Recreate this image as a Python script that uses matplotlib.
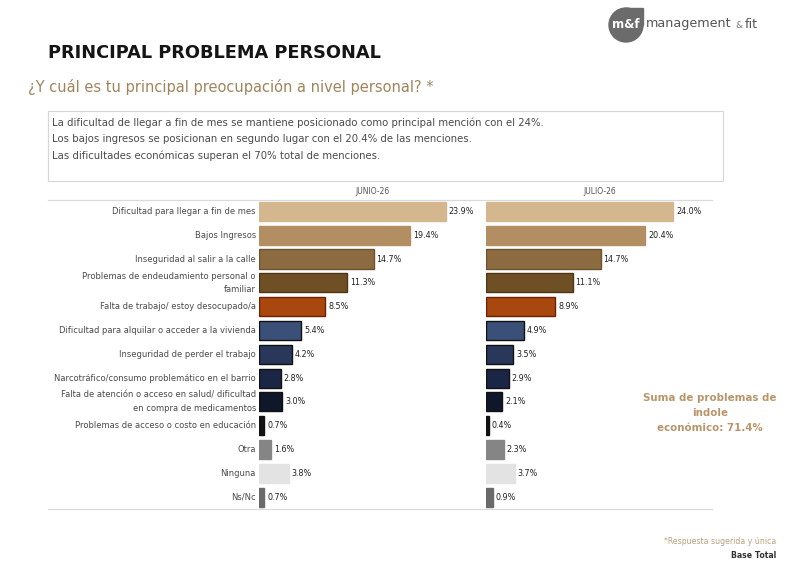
import numpy as np
import matplotlib
matplotlib.use("Agg")
import matplotlib.pyplot as plt
from matplotlib.patches import Rectangle, Circle
from matplotlib.lines import Line2D

categorias = [
    "Dificultad para llegar a fin de mes",
    "Bajos Ingresos",
    "Inseguridad al salir a la calle",
    "Problemas de endeudamiento personal o\nfamiliar",
    "Falta de trabajo/ estoy desocupado/a",
    "Dificultad para alquilar o acceder a la vivienda",
    "Inseguridad de perder el trabajo",
    "Narcotráfico/consumo problemático en el barrio",
    "Falta de atención o acceso en salud/ dificultad\nen compra de medicamentos",
    "Problemas de acceso o costo en educación",
    "Otra",
    "Ninguna",
    "Ns/Nc",
]
junio = [23.9, 19.4, 14.7, 11.3, 8.5, 5.4, 4.2, 2.8, 3.0, 0.7, 1.6, 3.8, 0.7]
julio = [24.0, 20.4, 14.7, 11.1, 8.9, 4.9, 3.5, 2.9, 2.1, 0.4, 2.3, 3.7, 0.9]
periodos = ["JUNIO-26", "JULIO-26"]

colores = ["#D5B78F", "#B28E62", "#8C6B40", "#6F4F24", "#A9480E", "#3B5079",
           "#28375A", "#1B2647", "#0F172B", "#141414", "#858585", "#E3E3E3", "#6A6A6A"]
bordes = ["#D5B78F", "#B28E62", "#6E522C", "#4E3515", "#6E1F05", "#111111",
          "#111111", "#111111", "#111111", "#111111", "#858585", "#E3E3E3", "#6A6A6A"]

W, H = 800, 567
fig = plt.figure(figsize=(W / 100, H / 100), dpi=100)
fig.patch.set_facecolor("white")


def fx(x):
    return x / W


def fy(y):
    return 1 - y / H


def add_ax(x0, x1, y0, y1):
    return fig.add_axes([fx(x0), fy(y1), fx(x1) - fx(x0), fy(y0) - fy(y1)])


# logo
logo = fig.add_axes([fx(600), fy(46), fx(52), (46 - 4) / H])
logo.set_xlim(0, 52)
logo.set_ylim(0, 42)
logo.set_aspect("equal")
logo.axis("off")
logo.add_patch(Circle((26, 21), 17, color="#6B6B6B"))
logo.add_patch(Rectangle((26, 21), 17, 17, color="#6B6B6B"))
logo.text(26, 21, "m&f", color="white", fontsize=8.5, fontweight="bold",
          ha="center", va="center")
fig.text(fx(646), fy(24), "management", color="#555555", fontsize=9.2,
         ha="left", va="center")
fig.text(fx(735), fy(25), "&", color="#777777", fontsize=6.5, ha="left", va="center")
fig.text(fx(745), fy(24), "fit", color="#555555", fontsize=9.2, ha="left", va="center")

# titulos
fig.text(fx(48), fy(53), "PRINCIPAL PROBLEMA PERSONAL", fontsize=12.8,
         fontweight="bold", color="#151515", ha="left", va="center")
fig.text(fx(28), fy(87), "¿Y cuál es tu principal preocupación a nivel personal? *",
         fontsize=10.5, color="#A0845C", ha="left", va="center")

# recuadro
fig.patches.append(Rectangle((fx(48), fy(181)), fx(723) - fx(48), fy(111) - fy(181),
                             transform=fig.transFigure, fill=False,
                             edgecolor="#D6D6D6", linewidth=0.8))
textos = [
    "La dificultad de llegar a fin de mes se mantiene posicionado como principal mención con el 24%.",
    "Los bajos ingresos se posicionan en segundo lugar con el 20.4% de las menciones.",
    "Las dificultades económicas superan el 70% total de menciones.",
]
for i, t in enumerate(textos):
    fig.text(fx(52), fy(123 + 16.5 * i), t, fontsize=7.3, color="#4A4A4A",
             ha="left", va="center")

# lineas superior e inferior
for y in (199.5, 509):
    fig.add_artist(Line2D([fx(48), fx(712)], [fy(y), fy(y)], color="#D9D9D9",
                          linewidth=0.8, transform=fig.transFigure))

# barras
ax1 = add_ax(259, 462, 199.5, 509)
ax2 = add_ax(486, 689, 199.5, 509)
y = np.arange(len(categorias))
for ax, vals, nombre, cx in ((ax1, junio, periodos[0], 373), (ax2, julio, periodos[1], 600)):
    ax.barh(y, vals, height=0.8, color=colores, edgecolor=bordes, linewidth=1.0)
    for yi, v in zip(y, vals):
        ax.text(v + 0.35, yi, f"{v:.1f}%", fontsize=5.8, color="#222222",
                ha="left", va="center")
    ax.set_xlim(0, 26)
    ax.set_ylim(12.5, -0.5)
    ax.axis("off")
    fig.text(fx(cx), fy(191), nombre, fontsize=5.5, color="#555555",
             ha="center", va="center")

for yi, c in zip(y, categorias):
    ax1.text(-0.4, yi, c, fontsize=6.0, color="#4A4A4A", ha="right", va="center",
             linespacing=1.55)

# anotacion
fig.text(fx(710), fy(413), "Suma de problemas de\nindole\neconómico: 71.4%",
         fontsize=7.4, fontweight="bold", color="#B8956A", ha="center", va="center",
         linespacing=1.6)

# pie
fig.text(fx(776), fy(542), "*Respuesta sugerida y única", fontsize=5.6,
         color="#B8A07E", ha="right", va="center")
fig.text(fx(776), fy(556), "Base Total", fontsize=5.6, fontweight="bold",
         color="#333333", ha="right", va="center")

fig.savefig("out.png", dpi=100)
